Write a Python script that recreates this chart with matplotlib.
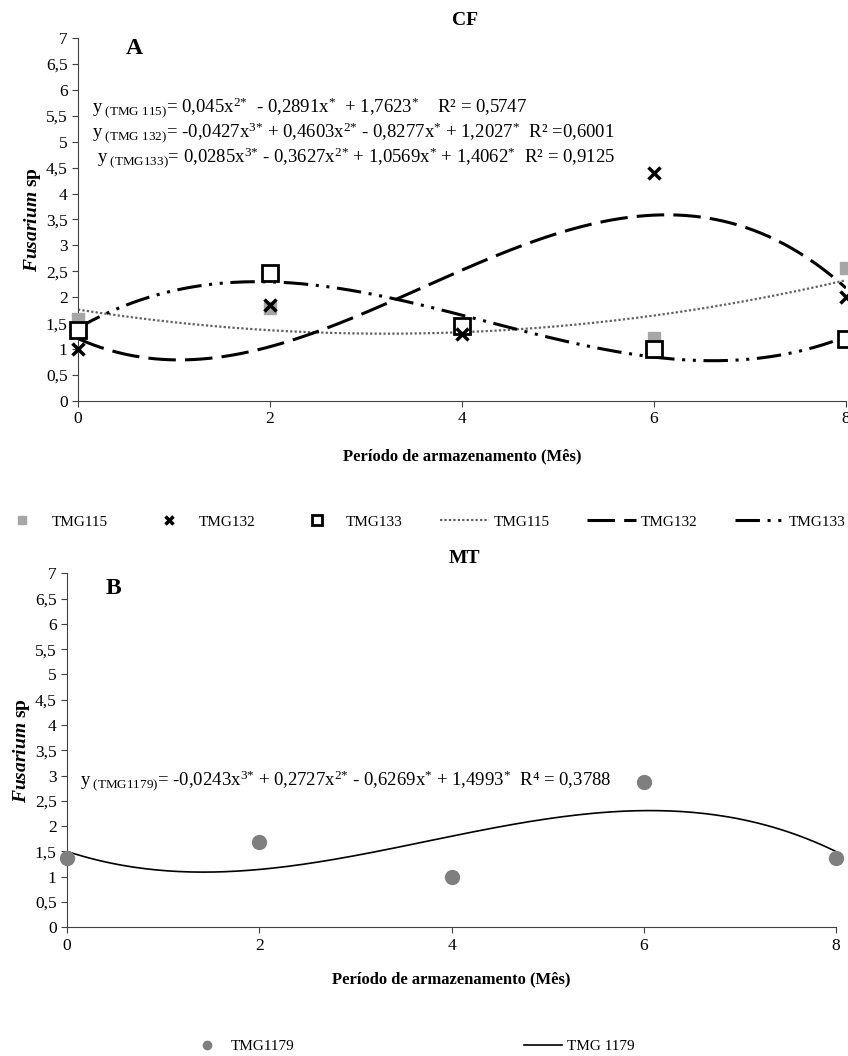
import matplotlib
matplotlib.use("Agg")
import matplotlib.pyplot as plt
import numpy as np
from matplotlib.ticker import FuncFormatter

plt.rcParams['font.family'] = ['Liberation Serif', 'DejaVu Serif']
plt.rcParams['mathtext.fontset'] = 'custom'
plt.rcParams['mathtext.rm'] = 'Liberation Serif'
plt.rcParams['mathtext.it'] = 'Liberation Serif:italic'
plt.rcParams['mathtext.bf'] = 'Liberation Serif:bold'
plt.rcParams['mathtext.bfit'] = 'Liberation Serif:bold:italic'

# data
meses = [0, 2, 4, 6, 8]
tmg115 = [1.58, 1.80, 1.40, 1.22, 2.57]
tmg132 = [1.00, 1.86, 1.30, 4.40, 2.00]
tmg133 = [1.37, 2.47, 1.45, 1.01, 1.20]
tmg1179 = [1.37, 1.68, 1.00, 2.87, 1.37]

# regression coefficients shown on the chart (highest power first)
coef115 = [0.045, -0.2891, 1.7623]
coef132 = [-0.0427, 0.4603, -0.8277, 1.2027]
coef133 = [0.0285, -0.3627, 1.0569, 1.4062]
coef1179 = [-0.0243, 0.2727, -0.6269, 1.4993]


def eq(sub, parts, r2):
    # parts: list of (text, superscript)
    s = r'\text{y}_{\text{ ' + sub + r'}}'
    for txt, sup in parts:
        s += r'\text{' + txt + '}'
        if sup:
            s += r'^{\text{' + sup + '}}'
    s += r'\text{' + r2 + '}'
    return '$' + s + '$'


eq115 = eq('(TMG 115)', [('= 0,045x', '2*'), ('  - 0,2891x', '*'), ('  + 1,7623', '*')], '    R² = 0,5747')
eq132 = eq('(TMG 132)', [('= -0,0427x', '3*'), (' + 0,4603x', '2*'), (' - 0,8277x', '*'), (' + 1,2027', '*')], '  R² =0,6001')
eq133 = eq('(TMG133)', [('= 0,0285x', '3*'), (' - 0,3627x', '2*'), (' + 1,0569x', '*'), (' + 1,4062', '*')], '  R² = 0,9125')
eq1179 = eq('(TMG1179)', [('= -0,0243x', '3*'), (' + 0,2727x', '2*'), (' - 0,6269x', '*'), (' + 1,4993', '*')], '  R⁴ = 0,3788')

xs = np.linspace(0, 8, 200)
comma = FuncFormatter(lambda v, p: ('%g' % v).replace('.', ','))

fig = plt.figure(figsize=(8.48, 10.56), dpi=100)
axA = fig.add_axes([0.092, 0.6203, 0.9056, 0.3437])
axB = fig.add_axes([0.079, 0.122, 0.907, 0.335])

for ax in (axA, axB):
    ax.set_xlim(0, 8)
    ax.set_ylim(0, 7)
    ax.set_xticks(meses)
    ax.set_yticks(np.arange(0, 7.01, 0.5))
    ax.yaxis.set_major_formatter(comma)
    for s in ('top', 'right'):
        ax.spines[s].set_visible(False)
    for s in ('left', 'bottom'):
        ax.spines[s].set_color('#404040')
    ax.tick_params(labelsize=12.5, length=4, color='#404040')
    ax.set_ylabel(r'$\mathbfit{Fusarium}$ $\mathbf{sp}$', fontsize=14, labelpad=2)

axA.set_xlabel('Período de armazenamento (Mês)', fontsize=12, fontweight='bold', labelpad=15)
axB.set_xlabel('Período de armazenamento (Mês)', fontsize=12, fontweight='bold', labelpad=13)

# panel A
m1, = axA.plot(meses, tmg115, 's', color='#a6a6a6', ms=9, clip_on=False, label='TMG115', zorder=3)
m2, = axA.plot(meses, tmg132, 'x', color='black', ms=9, mew=2.5, clip_on=False, label='TMG132', zorder=4)
m3, = axA.plot(meses, tmg133, 's', mfc='white', mec='black', mew=2, ms=11, clip_on=False, label='TMG133', zorder=3)
l1, = axA.plot(xs, np.polyval(coef115, xs), color='#606060', lw=1.6, ls=(0, (1, 1)), label='TMG115')
l2, = axA.plot(xs, np.polyval(coef132, xs), color='black', lw=2.2, ls=(0, (9, 3)), label='TMG132')
l3, = axA.plot(xs, np.polyval(coef133, xs), color='black', lw=2.2, ls=(0, (8, 2.5, 1, 2.5, 1, 2.5)), label='TMG133')

axA.text(0.5, 6.8, 'A', fontsize=17, fontweight='bold', va='center')
fig.text(0.548, 0.981, 'CF', fontsize=14, fontweight='bold', ha='center', va='center')
axA.text(0.146, 5.66, eq115, fontsize=13.5, va='center')
axA.text(0.146, 5.17, eq132, fontsize=13.5, va='center')
axA.text(0.2, 4.68, eq133, fontsize=13.5, va='center')

fig.legend([m1, m2, m3, l1, l2, l3], ['TMG115', 'TMG132', 'TMG133', 'TMG115', 'TMG132', 'TMG133'],
           loc='center', bbox_to_anchor=(0.497, 0.506), ncol=6, frameon=False, fontsize=11,
           handlelength=3.2, columnspacing=2.45, handletextpad=0.3, markerscale=0.7)

# panel B
c1, = axB.plot(meses, tmg1179, 'o', color='#7f7f7f', ms=10, clip_on=False, label='TMG1179', zorder=3)
c2, = axB.plot(xs, np.polyval(coef1179, xs), color='black', lw=1.2, label='TMG 1179')

axB.text(0.4, 6.7, 'B', fontsize=17, fontweight='bold', va='center')
fig.text(0.548, 0.471, 'MT', fontsize=14, fontweight='bold', ha='center', va='center')
axB.text(0.135, 2.9, eq1179, fontsize=13.5, va='center')

fig.legend([c1, c2], ['TMG1179', 'TMG 1179'], loc='center', bbox_to_anchor=(0.485, 0.009),
           ncol=2, frameon=False, fontsize=11, handlelength=2.5, columnspacing=15,
           handletextpad=0.3, markerscale=0.6)

fig.savefig('out.png', dpi=100)
